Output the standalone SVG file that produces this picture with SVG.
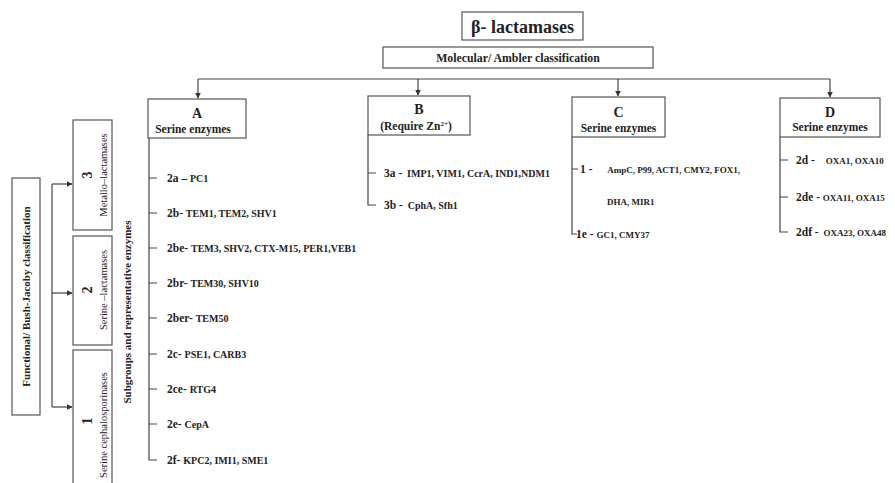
<svg xmlns="http://www.w3.org/2000/svg" width="895" height="483" viewBox="0 0 895 483">
  <style>
    .bg { fill: #ffffff; }
    .box { fill: #ffffff; stroke: #555555; stroke-width: 1.2; }
    .ln { fill: none; stroke: #444444; stroke-width: 1.2; }
    text { font-family: "Liberation Serif", "Times New Roman", serif; font-weight: bold; fill: #222222; }
    .title { font-size: 18px; }
    .hdr { font-size: 11.8px; }
    .big { font-size: 14px; }
    .sub { font-size: 11.5px; }
    .code { font-size: 11.5px; }
    .enz { font-size: 10px; }
    .enzs { font-size: 9px; }
    .side { font-size: 10.5px; font-weight: normal; }
    .fl { font-size: 11px; }
  </style>
  <defs>
    <marker id="arr" viewBox="0 0 10 10" refX="9" refY="5" markerWidth="6" markerHeight="6" orient="auto" markerUnits="userSpaceOnUse">
      <path d="M0,0 L10,5 L0,10 z" fill="#333333"/>
    </marker>
  </defs>
  <rect class="bg" x="0" y="0" width="895" height="483"/>

  <!-- connectors -->
  <g id="connectors">
    <!-- Ambler branches -->
    <path class="ln" d="M198,79 H830"/>
    <path class="ln" d="M198,79 V98" marker-end="url(#arr)"/>
    <path class="ln" d="M418,79 V95" marker-end="url(#arr)"/>
    <path class="ln" d="M618,79 V96" marker-end="url(#arr)"/>
    <path class="ln" d="M830,79 V97" marker-end="url(#arr)"/>
    <!-- functional bracket -->
    <path class="ln" d="M52,184 V407"/>
    <path class="ln" d="M52,184 H72" marker-end="url(#arr)"/>
    <path class="ln" d="M52,293 H72" marker-end="url(#arr)"/>
    <path class="ln" d="M52,407 H72" marker-end="url(#arr)"/>
    <!-- group A list -->
    <path class="ln" d="M149,138 V460 H157"/>
    <path class="ln" d="M149,178 H157 M149,213 H157 M149,248 H157 M149,283 H157 M149,318 H157 M149,354 H157 M149,389 H157 M149,424 H157"/>
    <!-- group B list -->
    <path class="ln" d="M368,135 V205 H376 M368,173 H376"/>
    <!-- group C list -->
    <path class="ln" d="M572,137 V234 H577 M572,169 H578"/>
    <!-- group D list -->
    <path class="ln" d="M780,137 V232 H788 M780,160 H788 M780,197 H788"/>
  </g>

  <g id="title">
    <rect class="box" x="462" y="12" width="121" height="28"/>
    <text class="title" x="522.5" y="32.5" text-anchor="middle">β- lactamases</text>
  </g>

  <g id="ambler">
    <rect class="box" x="383" y="47" width="270" height="21"/>
    <text class="hdr" x="518" y="61.5" text-anchor="middle">Molecular/ Ambler classification</text>
  </g>

  <g id="group-a">
    <rect class="box" x="148" y="99" width="98" height="39"/>
    <text class="big" x="197" y="118" text-anchor="middle">A</text>
    <text class="sub" x="193" y="133" text-anchor="middle">Serine enzymes</text>
    <text x="167" y="182"><tspan class="code">2a – </tspan><tspan class="enz">PC1</tspan></text>
    <text x="167" y="217"><tspan class="code">2b- </tspan><tspan class="enz">TEM1, TEM2, SHV1</tspan></text>
    <text x="167" y="252"><tspan class="code">2be- </tspan><tspan class="enz">TEM3, SHV2, CTX-M15, PER1,VEB1</tspan></text>
    <text x="167" y="287"><tspan class="code">2br- </tspan><tspan class="enz">TEM30, SHV10</tspan></text>
    <text x="167" y="322"><tspan class="code">2ber- </tspan><tspan class="enz">TEM50</tspan></text>
    <text x="167" y="358"><tspan class="code">2c- </tspan><tspan class="enz">PSE1, CARB3</tspan></text>
    <text x="167" y="393"><tspan class="code">2ce- </tspan><tspan class="enz">RTG4</tspan></text>
    <text x="167" y="428"><tspan class="code">2e- </tspan><tspan class="enz">CepA</tspan></text>
    <text x="167" y="464"><tspan class="code">2f- </tspan><tspan class="enz">KPC2, IMI1, SME1</tspan></text>
  </g>

  <g id="group-b">
    <rect class="box" x="368" y="96" width="102" height="39"/>
    <text class="big" x="419" y="114" text-anchor="middle">B</text>
    <text class="sub" x="416" y="130" text-anchor="middle">(Require Zn<tspan font-size="7" dy="-4">2+</tspan><tspan dy="4">)</tspan></text>
    <text x="384" y="177"><tspan class="code">3a - </tspan><tspan class="enz" dx="2">IMP1, VIM1, CcrA, IND1,NDM1</tspan></text>
    <text x="384" y="209"><tspan class="code">3b - </tspan><tspan class="enz" dx="2">CphA, Sfh1</tspan></text>
  </g>

  <g id="group-c">
    <rect class="box" x="572" y="97" width="93" height="40"/>
    <text class="big" x="618.5" y="117" text-anchor="middle">C</text>
    <text class="sub" x="618.5" y="132" text-anchor="middle">Serine enzymes</text>
    <text x="580" y="173"><tspan class="code">1 - </tspan><tspan class="enzs" dx="12">AmpC, P99, ACT1, CMY2, FOX1,</tspan></text>
    <text class="enzs" x="607" y="205">DHA, MIR1</text>
    <text x="576" y="238"><tspan class="code">1e - </tspan><tspan class="enzs">GC1, CMY37</tspan></text>
  </g>

  <g id="group-d">
    <rect class="box" x="780" y="98" width="100" height="39"/>
    <text class="big" x="830" y="117" text-anchor="middle">D</text>
    <text class="sub" x="830" y="131" text-anchor="middle">Serine enzymes</text>
    <text x="796" y="164"><tspan class="code">2d - </tspan><tspan class="enzs" dx="8">OXA1, OXA10</tspan></text>
    <text x="796" y="201"><tspan class="code">2de - </tspan><tspan class="enzs">OXA11, OXA15</tspan></text>
    <text x="796" y="236"><tspan class="code">2df - </tspan><tspan class="enzs" dx="2">OXA23, OXA48</tspan></text>
  </g>

  <g id="functional">
    <rect class="box" x="12" y="178" width="28" height="237"/>
    <text class="fl" transform="translate(30,296.5) rotate(-90)" text-anchor="middle">Functional/ Bush-Jacoby classification</text>
  </g>

  <g id="class-3">
    <rect class="box" x="73" y="120" width="39" height="110"/>
    <text class="big" transform="translate(92,175) rotate(-90)" text-anchor="middle">3</text>
    <text class="side" transform="translate(107,175) rotate(-90)" text-anchor="middle">Metallo–lactamases</text>
  </g>

  <g id="class-2">
    <rect class="box" x="73" y="236" width="39" height="109"/>
    <text class="big" transform="translate(92,290) rotate(-90)" text-anchor="middle">2</text>
    <text class="side" transform="translate(107,290) rotate(-90)" text-anchor="middle">Serine –lactamases</text>
  </g>

  <g id="class-1">
    <rect class="box" x="73" y="350" width="39" height="140"/>
    <text class="big" transform="translate(92,421) rotate(-90)" text-anchor="middle">1</text>
    <text class="side" transform="translate(107,425) rotate(-90)" text-anchor="middle">Serine cephalosporinases</text>
  </g>

  <g id="subgroups-label">
    <text class="fl" transform="translate(131,312) rotate(-90)" text-anchor="middle">Subgroups and representative enzymes</text>
  </g>
</svg>
